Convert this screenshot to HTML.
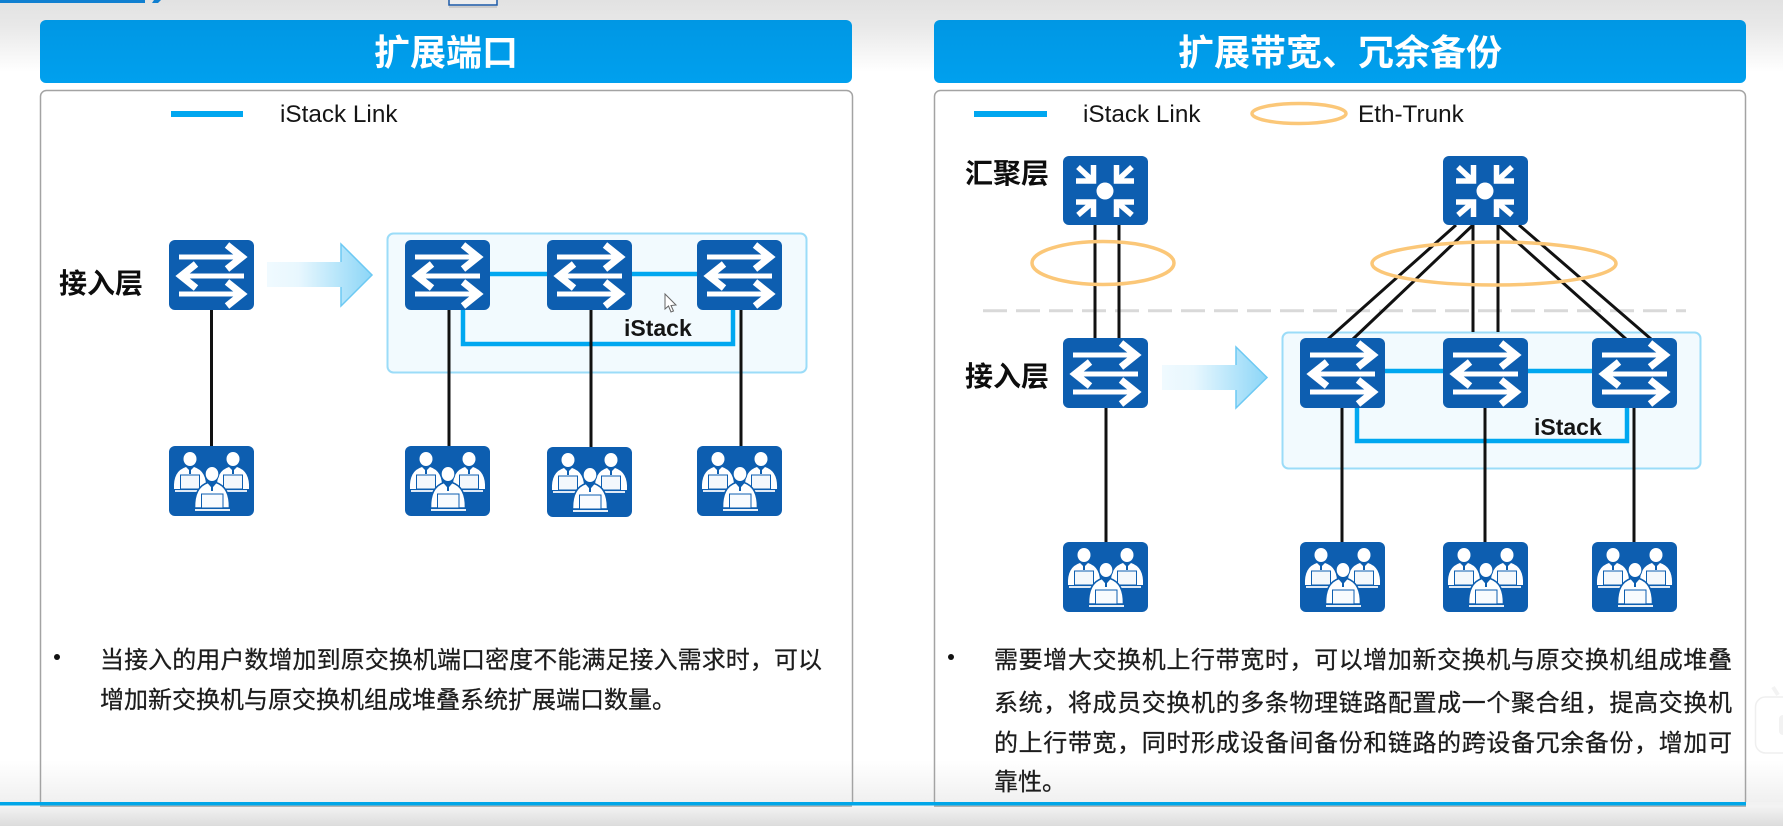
<!DOCTYPE html>
<html lang="zh">
<head>
<meta charset="utf-8">
<title>iStack</title>
<style>
html,body{margin:0;padding:0;width:1783px;height:826px;overflow:hidden;background:#fff}
svg{display:block}
text{font-family:"Liberation Sans","Noto Sans CJK SC",sans-serif}
.cn{font-size:24px;fill:#1c1c1c;stroke:#1c1c1c;stroke-width:.25}
.lb{font-size:28px;font-weight:700;fill:#0d0d0d}
.hd{font-size:36px;font-weight:700;fill:#fff;text-anchor:middle}
.lg{font-size:24.300px;fill:#151515}
.st{font-size:23px;font-weight:700;fill:#151515}
</style>
</head>
<body>
<svg width="1783" height="826" viewBox="0 0 1783 826" xmlns="http://www.w3.org/2000/svg">
<defs>
<linearGradient id="top" x1="0" y1="0" x2="0" y2="1"><stop offset="0" stop-color="#e2e2e2"/><stop offset=".35" stop-color="#e8e8e8"/><stop offset="1" stop-color="#fff"/></linearGradient>
<linearGradient id="bot" x1="0" y1="0" x2="0" y2="1"><stop offset="0" stop-color="#fff"/><stop offset="1" stop-color="#f0f0f0"/></linearGradient>
<linearGradient id="ftr" x1="0" y1="0" x2="0" y2="1"><stop offset="0" stop-color="#f4f4f4"/><stop offset="1" stop-color="#dcdcdc"/></linearGradient>
<linearGradient id="hdg" x1="0" y1="0" x2="0" y2="1"><stop offset="0" stop-color="#0097e4"/><stop offset="1" stop-color="#00a0ee"/></linearGradient>
<linearGradient id="arr" x1="0" y1="0" x2="1" y2="0"><stop offset="0" stop-color="#f0faff"/><stop offset=".3" stop-color="#e8f7fe"/><stop offset="1" stop-color="#8cd6f7"/></linearGradient>

<g id="sw">
<rect width="85" height="70" rx="6" fill="#0d5eb0"/>
<g fill="none" stroke="#fff" stroke-linejoin="miter">
<path d="M10 17H72" stroke-width="5"/><path d="M58 5L73 17L58 29" stroke-width="7"/>
<path d="M75 36H13" stroke-width="5"/><path d="M27 24L12 36L27 48" stroke-width="7"/>
<path d="M10 54H72" stroke-width="5"/><path d="M58 42L73 54L58 66" stroke-width="7"/>
</g>
</g>

<g id="ag">
<rect width="85" height="69" rx="6" fill="#0d5eb0"/>
<circle cx="42" cy="35" r="8.500" fill="#fff"/>
<g fill="none" stroke="#fff" stroke-width="5.500">
<path d="M13 25H30.500V9M15 11L29 24"/>
<path d="M71 25H53.500V9M69 11L55 24"/>
<path d="M13 46H30.500V61M15 59L29 47"/>
<path d="M71 46H53.500V61M69 59L55 47"/>
</g>
</g>

<g id="pn">
<ellipse cx="0" cy="0" rx="6.500" ry="7" fill="#fff"/>
<path d="M-16 30Q-17 12-4 8L0 12L4 8Q17 12 16 30Z" fill="#fff"/>
<path d="M-1 9H1V15H-1Z" fill="#0d5eb0"/>
<rect x="-9.500" y="16" width="19" height="14" fill="#f4f8fc" stroke="#0d5eb0" stroke-width="1"/>
</g>

<g id="us">
<rect width="85" height="70" rx="6" fill="#0d5eb0"/>
<use href="#pn" x="21" y="13"/>
<use href="#pn" x="64" y="13"/>
<rect x="6" y="44" width="26" height="2" fill="#dfe9f5"/>
<rect x="52" y="44" width="26" height="2" fill="#dfe9f5"/>
<path d="M25.500 62Q25 41 39 36.500L43 41L47 36.500Q61 41 60.500 62Z" fill="#fff" stroke="#0d5eb0" stroke-width="1.600"/>
<ellipse cx="43" cy="28" rx="6.800" ry="7.500" fill="#fff" stroke="#0d5eb0" stroke-width="1"/>
<rect x="42" y="38" width="2" height="7" fill="#0d5eb0"/>
<rect x="32.500" y="48" width="21.500" height="14" fill="#f8fbfe" stroke="#0d5eb0" stroke-width="1"/>
<rect x="26" y="63" width="35" height="2" fill="#e8f0f8"/>
</g>
</defs>

<!-- background -->
<rect width="1783" height="826" fill="#fff"/>
<rect width="1783" height="72" fill="url(#top)"/>
<rect y="760" width="1783" height="43" fill="url(#bot)"/>
<rect y="805" width="1783" height="21" fill="url(#ftr)"/>

<!-- top decorations -->
<rect x="0" y="0" width="145" height="3" fill="#0f7fd0"/>
<path d="M152 3L154 0H161L158 3Z" fill="#0f7fd0"/>
<rect x="449" y="-3" width="48" height="8" fill="#eee" stroke="#1c5aa8" stroke-width="1.500"/>
<rect x="449" y="6" width="48" height="2" fill="#ccc"/>

<!-- headers -->
<rect x="40" y="20" width="812" height="63" rx="6" fill="url(#hdg)"/>
<rect x="934" y="20" width="812" height="63" rx="6" fill="url(#hdg)"/>
<text class="hd" x="446" y="65">扩展端口</text>
<text class="hd" x="1340" y="65">扩展带宽、冗余备份</text>

<!-- panels -->
<rect x="40.500" y="90.500" width="812" height="720" rx="6" fill="#fff" stroke="#a3a3a3" stroke-width="1.500"/>
<rect x="934.500" y="90.500" width="811" height="720" rx="6" fill="#fff" stroke="#a3a3a3" stroke-width="1.500"/>
<rect x="41.500" y="760" width="810" height="43" fill="url(#bot)"/>
<rect x="935.500" y="760" width="809" height="43" fill="url(#bot)"/>
<rect y="805.500" width="1783" height="20.500" fill="url(#ftr)"/>
<rect x="40" y="805.500" width="812" height="1.500" fill="#b5b5b5"/>
<rect x="934" y="805.500" width="812" height="1.500" fill="#b5b5b5"/>
<rect x="0" y="802" width="1746" height="3.500" fill="#00a6e8"/>
<rect x="1746" y="802" width="37" height="3.500" fill="#f2f2f2"/>

<!-- left legend -->
<rect x="171" y="111" width="72" height="6" fill="#00a7f0"/>
<text class="lg" x="280" y="122">iStack Link</text>

<!-- left diagram -->
<text class="lb" x="59" y="293">接入层</text>
<line x1="211.500" y1="310" x2="211.500" y2="446" stroke="#111" stroke-width="3"/>
<use href="#sw" x="169" y="240"/>
<use href="#us" x="169" y="446"/>
<path d="M267 262H341V244L372 275L341 306V287H267Z" fill="url(#arr)"/>
<path d="M341 262V244L372 275L341 306V287" fill="none" stroke="#6cc9f3" stroke-width="1.500"/>

<rect x="387.500" y="233.500" width="419" height="139" rx="6" fill="#f2fafe" stroke="#9bdcf8" stroke-width="2"/>
<path d="M490 274H697" stroke="#00a7f0" stroke-width="4.500" fill="none"/>
<path d="M463 310V344H733V310" stroke="#00a7f0" stroke-width="4.500" fill="none"/>
<g stroke="#111" stroke-width="3">
<line x1="449" y1="310" x2="449" y2="446"/>
<line x1="591" y1="310" x2="591" y2="447"/>
<line x1="741" y1="310" x2="741" y2="446"/>
</g>
<use href="#sw" x="405" y="240"/>
<use href="#sw" x="547" y="240"/>
<use href="#sw" x="697" y="240"/>
<use href="#us" x="405" y="446"/>
<use href="#us" x="547" y="447"/>
<use href="#us" x="697" y="446"/>
<text class="st" x="624" y="336">iStack</text>
<path d="M665 294V309L668.500 306L671 312L673.500 311L671 305.500L676 305Z" fill="#fff" stroke="#666" stroke-width="1"/>

<!-- left text -->
<circle cx="57" cy="657" r="3" fill="#111"/>
<text class="cn" x="100" y="668" textLength="722">当接入的用户数增加到原交换机端口密度不能满足接入需求时，可以</text>
<text class="cn" x="100" y="708">增加新交换机与原交换机组成堆叠系统扩展端口数量。</text>

<!-- right legend -->
<rect x="974" y="111" width="73" height="6" fill="#00a7f0"/>
<text class="lg" x="1083" y="122">iStack Link</text>
<ellipse cx="1299" cy="113.500" rx="47" ry="10" fill="none" stroke="#fbc778" stroke-width="3.500"/>
<text class="lg" x="1358" y="122">Eth-Trunk</text>

<!-- right diagram -->
<text class="lb" x="965" y="183">汇聚层</text>
<text class="lb" x="965" y="386">接入层</text>
<line x1="983" y1="310.700" x2="1686" y2="310.700" stroke="#d9d9d9" stroke-width="3" stroke-dasharray="24 9"/>

<rect x="1282.500" y="332.500" width="418" height="136" rx="6" fill="#f2fafe" stroke="#9bdcf8" stroke-width="2"/>

<g stroke="#111" stroke-width="3" fill="none">
<line x1="1095" y1="225" x2="1095" y2="339"/>
<line x1="1119" y1="225" x2="1119" y2="339"/>
<line x1="1106" y1="407" x2="1106" y2="543"/>
<line x1="1456" y1="225" x2="1328" y2="339"/>
<line x1="1473" y1="225" x2="1353" y2="339"/>
<line x1="1473" y1="225" x2="1473" y2="332"/>
<line x1="1498" y1="225" x2="1498" y2="332"/>
<line x1="1498" y1="225" x2="1626" y2="339"/>
<line x1="1519" y1="225" x2="1651" y2="339"/>
</g>
<ellipse cx="1103" cy="263" rx="71" ry="21.500" fill="none" stroke="#fbc778" stroke-width="3.500"/>
<ellipse cx="1494" cy="263.500" rx="122" ry="21.500" fill="none" stroke="#fbc778" stroke-width="3.500"/>

<path d="M1385 371H1592" stroke="#00a7f0" stroke-width="4.500" fill="none"/>
<path d="M1357 407V441H1627V407" stroke="#00a7f0" stroke-width="4.500" fill="none"/>
<g stroke="#111" stroke-width="3">
<line x1="1342" y1="407" x2="1342" y2="543"/>
<line x1="1485" y1="407" x2="1485" y2="543"/>
<line x1="1634" y1="407" x2="1634" y2="543"/>
</g>

<use href="#ag" x="1063" y="156"/>
<use href="#ag" x="1443" y="156"/>
<use href="#sw" x="1063" y="338"/>
<use href="#sw" x="1300" y="338"/>
<use href="#sw" x="1443" y="338"/>
<use href="#sw" x="1592" y="338"/>
<use href="#us" x="1063" y="542"/>
<use href="#us" x="1300" y="542"/>
<use href="#us" x="1443" y="542"/>
<use href="#us" x="1592" y="542"/>

<path d="M1162 365H1236V347L1267 377.500L1236 408V390H1162Z" fill="url(#arr)"/>
<path d="M1236 365V347L1267 377.500L1236 408V390" fill="none" stroke="#6cc9f3" stroke-width="1.500"/>
<text class="st" x="1534" y="435">iStack</text>

<!-- right text -->
<circle cx="951" cy="657" r="3" fill="#111"/>
<text class="cn" x="994" y="668" textLength="738">需要增大交换机上行带宽时，可以增加新交换机与原交换机组成堆叠</text>
<text class="cn" x="994" y="711" textLength="738">系统，将成员交换机的多条物理链路配置成一个聚合组，提高交换机</text>
<text class="cn" x="994" y="751" textLength="738">的上行带宽，同时形成设备间备份和链路的跨设备冗余备份，增加可</text>
<text class="cn" x="994" y="790">靠性。</text>

<!-- widget -->
<path d="M1773 687L1778 695" stroke="#f3f3f3" stroke-width="4"/>
<rect x="1755.500" y="697" width="50" height="56" rx="10" fill="#fff" stroke="#efefef" stroke-width="1.500"/>
<rect x="1779" y="715" width="10" height="20" rx="4" fill="#f2f2f2"/>
</svg>
</body>
</html>
